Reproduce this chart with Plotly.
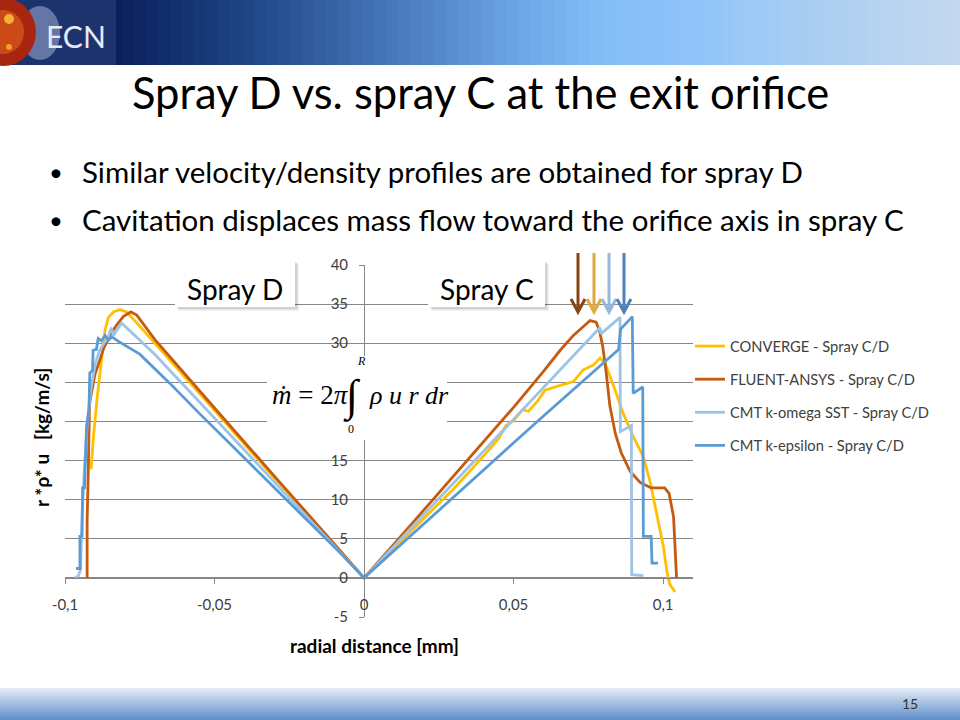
import plotly.graph_objects as go

# ---------------- DATA ----------------
series_names = ["CONVERGE - Spray C/D", "FLUENT-ANSYS - Spray C/D",
                "CMT k-omega SST - Spray C/D", "CMT k-epsilon - Spray C/D"]
series_colors = ["#FFC000", "#C55A11", "#9DC3E6", "#5B9BD5"]

converge_x = [-0.0913, -0.0905, -0.0892, -0.0877, -0.0866, -0.0855, -0.0838, -0.0816, -0.0794, -0.0760,
              -0.0700, -0.0600, -0.0500, -0.0400, -0.0300, -0.0200, -0.0100, 0.0,
              0.0100, 0.0200, 0.0300, 0.0400, 0.0450, 0.0475, 0.0500, 0.0530, 0.0550, 0.0580, 0.0605,
              0.0656, 0.0700, 0.0733, 0.0767, 0.0789, 0.0806, 0.0834, 0.0867, 0.0901, 0.0934, 0.0957,
              0.0979, 0.1001, 0.1012, 0.1022, 0.1040]
converge_y = [13.9, 18.0, 23.2, 27.8, 31.7, 33.3, 34.0, 34.3, 34.0, 32.6,
              30.0, 25.7, 21.4, 17.1, 12.8, 8.6, 4.3, 0.0,
              3.8, 7.6, 11.4, 15.6, 17.8, 19.5, 20.1, 21.5, 21.3, 22.6, 24.0,
              24.6, 25.1, 26.6, 27.2, 28.1, 27.4, 24.6, 21.0, 18.0, 15.5, 12.2,
              8.2, 4.0, 1.0, -0.8, -1.8]

fluent_x = [-0.0926, -0.0926, -0.0922, -0.0918, -0.0900, -0.0887, -0.0870, -0.0850, -0.0828, -0.0805,
            -0.0780, -0.0760, -0.0700, -0.0600, -0.0500, -0.0400, -0.0300, -0.0200, -0.0100, 0.0,
            0.0100, 0.0200, 0.0300, 0.0400, 0.0500, 0.0600, 0.0656, 0.0700, 0.0756, 0.0776,
            0.0788, 0.0798, 0.0809, 0.0822, 0.0840, 0.0860, 0.0890, 0.0923, 0.0960, 0.1005,
            0.1020, 0.1035, 0.1040, 0.1045]
fluent_y = [0.0, 7.2, 14.0, 22.3, 26.0, 27.6, 29.4, 31.0, 32.3, 33.4,
            34.0, 33.6, 30.5, 26.1, 21.7, 17.4, 13.0, 8.7, 4.3, 0.0,
            4.3, 8.7, 13.1, 17.4, 21.8, 26.4, 29.1, 31.0, 32.9, 32.7,
            31.5, 29.6, 26.5, 22.0, 18.5, 16.0, 13.6, 12.2, 11.5, 11.5,
            10.8, 7.8, 3.0, 0.0]

komega_x = [-0.0965, -0.0955, -0.0948, -0.0943, -0.0935, -0.0925, -0.0912, -0.0898, -0.0885, -0.0870,
            -0.0857, -0.0845, -0.0838, -0.0811, -0.0700, -0.0600, -0.0500, -0.0400, -0.0300, -0.0200,
            -0.0100, 0.0,
            0.0200, 0.0400, 0.0600, 0.0789, 0.0792, 0.0856, 0.0857, 0.0894, 0.0895, 0.0934]
komega_y = [0.0, 0.3, 1.0, 7.8, 14.0, 20.0, 24.5, 27.5, 29.0, 30.0,
            30.6, 32.0, 31.0, 32.6, 28.6, 24.5, 20.4, 16.3, 12.2, 8.2,
            4.1, 0.0,
            8.1, 16.2, 24.3, 32.0, 31.2, 33.3, 18.7, 19.5, 0.4, 0.3]

kepsilon_x = [-0.0963, -0.0950, -0.0950, -0.0943, -0.0941, -0.0935, -0.0928, -0.0920, -0.0917, -0.0908,
              -0.0906, -0.0895, -0.0889, -0.0878, -0.0866, -0.0855, -0.0843, -0.0820, -0.0750, -0.0650,
              -0.0550, -0.0450, -0.0350, -0.0250, -0.0150, -0.0080, 0.0,
              0.0200, 0.0400, 0.0600, 0.0851, 0.0858, 0.0897, 0.0900, 0.0932, 0.0934, 0.0960,
              0.0963, 0.0983]
kepsilon_y = [1.2, 1.2, 5.3, 5.3, 11.5, 11.5, 19.3, 21.5, 26.2, 26.5,
              29.1, 29.2, 30.6, 30.3, 31.0, 30.4, 30.8, 30.2, 28.6, 24.9,
              21.0, 17.2, 13.4, 9.6, 5.8, 3.2, 0.0,
              6.9, 13.8, 20.7, 29.2, 31.8, 33.4, 23.6, 24.4, 5.3, 5.3,
              1.9, 1.9]

x_tick_vals = [-0.1, -0.05, 0.0, 0.05, 0.1]
x_tick_text = ["-0,1", "-0,05", "0", "0,05", "0,1"]
y_tick_vals = [-5, 0, 5, 10, 15, 20, 25, 30, 35, 40]
# 20 and 25 are hidden behind the formula box in the reference
y_tick_text = ["-5", "0", "5", "10", "15", "", "", "30", "35", "40"]

title_text = "Spray D vs. spray C at the exit orifice"
bullets = ["Similar velocity/density profiles are obtained for spray D",
           "Cavitation displaces mass flow toward the orifice axis in spray C"]
arrow_colors = ["#8B4513", "#DDAA44", "#95B8E0", "#4F81BD"]

# ---------------- LAYOUT HELPERS ----------------
L, R, T, B = 65, 693, 265, 617
W, H = R - L, B - T
X_RANGE = [-0.1, 0.11]
Y_RANGE = [-5, 40]


def px(x):
    return (x - L) / W


def py(y):
    return (B - y) / H


FONT = "Lato"

fig = go.Figure()
all_x = [converge_x, fluent_x, komega_x, kepsilon_x]
all_y = [converge_y, fluent_y, komega_y, kepsilon_y]
for name, col, xs, ys in zip(series_names, series_colors, all_x, all_y):
    fig.add_trace(go.Scatter(x=xs, y=ys, mode="lines", name=name, legendgroup=name,
                             line=dict(color=col, width=2.8), hoverinfo="skip"))

shapes = []
annotations = []


def hexlerp(c1, c2, t):
    a = [int(c1[i:i + 2], 16) for i in (1, 3, 5)]
    b = [int(c2[i:i + 2], 16) for i in (1, 3, 5)]
    return "#%02x%02x%02x" % tuple(round(a[k] + (b[k] - a[k]) * t) for k in range(3))


def grad(stops, pos):
    for (p1, c1), (p2, c2) in zip(stops, stops[1:]):
        if p1 <= pos <= p2:
            return hexlerp(c1, c2, (pos - p1) / (p2 - p1) if p2 > p1 else 0)
    return stops[-1][1]


# header gradient
hstops = [(115, "#0a1f5c"), (250, "#1f4585"), (400, "#4a7bbf"), (520, "#6ea6e6"),
          (600, "#83bdf7"), (700, "#90c4fa"), (800, "#a8cdf2"), (960, "#c4d8ee")]
step = 12
x0 = 110
while x0 < 960:
    shapes.append(dict(type="rect", xref="paper", yref="paper", x0=px(x0), x1=px(x0 + step + 1),
                       y0=py(65), y1=py(0), fillcolor=grad(hstops, x0 + step / 2), line=dict(width=0),
                       layer="above"))
    x0 += step
# logo
shapes.append(dict(type="rect", xref="paper", yref="paper", x0=px(0), x1=px(116), y0=py(65), y1=py(0),
                   fillcolor="#1c336e", line=dict(width=0), layer="above"))
shapes.append(dict(type="circle", xref="paper", yref="paper", x0=px(20), x1=px(60), y0=py(60), y1=py(6),
                   fillcolor="rgba(190,200,230,0.45)", line=dict(width=0), layer="above"))
shapes.append(dict(type="circle", xref="paper", yref="paper", x0=px(-30), x1=px(36), y0=py(66), y1=py(-2),
                   fillcolor="#a8260f", line=dict(width=0), layer="above"))
shapes.append(dict(type="circle", xref="paper", yref="paper", x0=px(-18), x1=px(24), y0=py(54), y1=py(10),
                   fillcolor="#cc4a18", line=dict(width=0), layer="above"))
shapes.append(dict(type="circle", xref="paper", yref="paper", x0=px(4), x1=px(14), y0=py(24), y1=py(14),
                   fillcolor="#f4b030", line=dict(width=0), layer="above"))
shapes.append(dict(type="circle", xref="paper", yref="paper", x0=px(6), x1=px(12), y0=py(50), y1=py(44),
                   fillcolor="#f0a020", line=dict(width=0), layer="above"))
annotations.append(dict(x=px(76), y=py(36), xref="paper", yref="paper", text="ECN", showarrow=False,
                        font=dict(family=FONT, size=30, color="#e6e9f6"), xanchor="center", yanchor="middle"))

# footer gradient
fstops = [(688, "#e4ecf5"), (700, "#b4cae4"), (720, "#5e8dc7")]
for i in range(16):
    y0 = 688 + i * 2
    shapes.append(dict(type="rect", xref="paper", yref="paper", x0=px(0), x1=px(960), y0=py(y0 + 2.5), y1=py(y0),
                       fillcolor=grad(fstops, y0 + 1), line=dict(width=0), layer="above"))
annotations.append(dict(x=px(910), y=py(703), xref="paper", yref="paper", text="15", showarrow=False,
                        font=dict(family=FONT, size=14, color="#333333"), xanchor="center", yanchor="middle"))

# title and bullets
annotations.append(dict(x=px(480), y=py(92), xref="paper", yref="paper", text=title_text, showarrow=False,
                        font=dict(family=FONT, size=43.5, color="#000000"), xanchor="center", yanchor="middle"))
for i, b in enumerate(bullets):
    yy = 171 + 48 * i
    annotations.append(dict(x=px(56), y=py(yy), xref="paper", yref="paper", text="•", showarrow=False,
                            font=dict(family=FONT, size=24, color="#000000"), xanchor="center", yanchor="middle"))
    annotations.append(dict(x=px(80), y=py(yy), xref="paper", yref="paper", text=b, showarrow=False,
                            font=dict(family=FONT, size=29.5, color="#000000"), xanchor="left", yanchor="middle"))

# white box behind equation
shapes.append(dict(type="rect", xref="paper", yref="paper", x0=px(267), x1=px(447), y0=py(440), y1=py(356),
                   fillcolor="white", line=dict(width=0), layer="above"))
# spray label boxes with soft shadows
for (bx0, bx1, label) in [(175, 295, "Spray D"), (428, 545, "Spray C")]:
    for off, a in [(4, 0.05), (3, 0.06), (2, 0.08)]:
        shapes.append(dict(type="rect", xref="paper", yref="paper", x0=px(bx0 + off), x1=px(bx1 + off),
                           y0=py(307 + off), y1=py(260 + off), fillcolor="rgba(0,0,0,%.2f)" % a,
                           line=dict(width=0), layer="above"))
    shapes.append(dict(type="rect", xref="paper", yref="paper", x0=px(bx0), x1=px(bx1), y0=py(307),
                       y1=py(260), fillcolor="white", line=dict(width=0), layer="above"))
    annotations.append(dict(x=px((bx0 + bx1) / 2), y=py(289), xref="paper", yref="paper", text=label,
                            showarrow=False, font=dict(family=FONT, size=28, color="#000000"),
                            xanchor="center", yanchor="middle"))

# equation
SERIF = "Liberation Serif"
annotations.append(dict(x=px(270), y=py(395), xref="paper", yref="paper", text="<i>ṁ</i> = 2<i>π</i>",
                        showarrow=False, font=dict(family=SERIF, size=27, color="#000000"),
                        xanchor="left", yanchor="middle"))
annotations.append(dict(x=px(352), y=py(396), xref="paper", yref="paper", text="∫", showarrow=False,
                        font=dict(family=SERIF, size=44, color="#000000"), xanchor="center", yanchor="middle"))
annotations.append(dict(x=px(361), y=py(361), xref="paper", yref="paper", text="<i>R</i>", showarrow=False,
                        font=dict(family=SERIF, size=12, color="#000000"), xanchor="center", yanchor="middle"))
annotations.append(dict(x=px(351), y=py(429), xref="paper", yref="paper", text="0", showarrow=False,
                        font=dict(family=SERIF, size=12, color="#000000"), xanchor="center", yanchor="middle"))
annotations.append(dict(x=px(367), y=py(395), xref="paper", yref="paper", text="<i>ρ u r dr</i>",
                        showarrow=False, font=dict(family=SERIF, size=26, color="#000000"),
                        xanchor="left", yanchor="middle"))

# arrows
for ax, col in zip([578, 594, 609, 624], arrow_colors):
    path = "M %f,%f L %f,%f M %f,%f L %f,%f L %f,%f" % (
        px(ax), py(253), px(ax), py(312),
        px(ax - 7), py(299), px(ax), py(312), px(ax + 7), py(299))
    shapes.append(dict(type="path", xref="paper", yref="paper", path=path,
                       line=dict(color=col, width=3), layer="above"))

# axis titles
annotations.append(dict(x=px(41), y=py(438), xref="paper", yref="paper",
                        text="<b>r *ρ* u   [kg/m/s]</b>", textangle=-90, showarrow=False,
                        font=dict(family=FONT, size=19, color="#000000"), xanchor="center", yanchor="middle"))
annotations.append(dict(x=px(374), y=py(645), xref="paper", yref="paper", text="<b>radial distance [mm]</b>",
                        showarrow=False, font=dict(family=FONT, size=19, color="#000000"),
                        xanchor="center", yanchor="middle"))

AX = "#868686"
fig.update_layout(
    width=960, height=720, margin=dict(l=L, r=960 - R, t=T, b=720 - B),
    paper_bgcolor="white", plot_bgcolor="white",
    xaxis=dict(range=X_RANGE, anchor="free", position=(0 - Y_RANGE[0]) / (Y_RANGE[1] - Y_RANGE[0]),
               showline=True, linecolor=AX, linewidth=1, ticks="outside", ticklen=5, tickcolor=AX,
               tickvals=x_tick_vals, ticktext=x_tick_text, showgrid=False, zeroline=False,
               ticklabelstandoff=8,
               tickfont=dict(family=FONT, size=15, color="#404040")),
    yaxis=dict(range=Y_RANGE, anchor="free", position=(0 - X_RANGE[0]) / (X_RANGE[1] - X_RANGE[0]),
               showline=True, linecolor=AX, linewidth=1, ticks="outside", ticklen=5, tickcolor=AX,
               tickvals=y_tick_vals, ticktext=y_tick_text, showgrid=True, gridcolor=AX, gridwidth=1,
               zeroline=False, ticklabelstandoff=8,
               tickfont=dict(family=FONT, size=15, color="#404040")),
    legend=dict(x=px(690), y=py(330), xanchor="left", yanchor="top", tracegroupgap=11,
                font=dict(family=FONT, size=14.7, color="#404040"), bgcolor="rgba(0,0,0,0)"),
    shapes=shapes, annotations=annotations, showlegend=True,
)

fig.write_html("out.html", config={"displayModeBar": False},
               post_script="document.body.style.margin='0px';")
